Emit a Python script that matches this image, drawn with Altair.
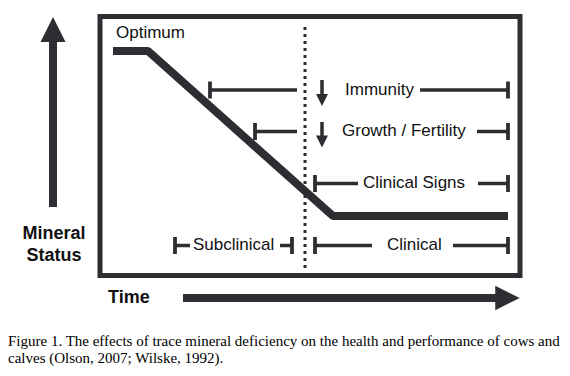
import altair as alt
import pandas as pd

W, H = 570, 376
INK = "#2c2e32"
TXT = "#111111"

# ---- diagram data (time -> x, status drawn downward from top -> y) ----
# mineral status curve
curve_time = [113, 148, 333, 508]
curve_status = [51, 51, 216, 216]

# frame of the plot
frame_x = [100]
frame_x2 = [520]
frame_y = [16.5]
frame_y2 = [275.5]

# threshold (dotted) between subclinical and clinical
threshold_x = [305]
threshold_y = [27]
threshold_y2 = [268]

# bracket rows
labels = ["Immunity", "Growth / Fertility", "Clinical Signs", "Clinical", "Subclinical"]
row_y = [90, 131.5, 183.5, 245.5, 245.5]
row_start = [210, 255, 315, 315, 175]
row_left_end = [297, 297, 358, 372, 190]
row_right_start = [420, 477, 478, 453, 280]
row_end = [508, 508, 508, 508, 292]
label_x = [345, 342, 363, 387, 193]

# small "decrease" arrows
down_x = [322, 322]
down_top = [80, 122]
down_tip = [105.5, 147]

# axis arrows
status_arrow_x = [53]
status_arrow_bottom = [207]
status_arrow_tip = [17]
time_arrow_y = [298]
time_arrow_start = [183]
time_arrow_tip = [520]

# text
optimum_label = ["Optimum"]
status_label = ["Mineral", "Status"]
time_label = ["Time"]
caption = [
    "Figure 1. The effects of trace mineral deficiency on the health and performance of cows and",
    "calves (Olson, 2007; Wilske, 1992).",
]

# ---- scales ----
xs = alt.Scale(domain=[0, W], nice=False, zero=False)
ys = alt.Scale(domain=[0, H], nice=False, zero=False, reverse=True)


def X(f):
    return alt.X(f, type="quantitative", scale=xs, axis=None)


def Y(f):
    return alt.Y(f, type="quantitative", scale=ys, axis=None)


# ---- tables ----
curve_df = pd.DataFrame({"t": curve_time, "s": curve_status, "o": list(range(len(curve_time)))})
frame_df = pd.DataFrame({"x": frame_x, "x2": frame_x2, "y": frame_y, "y2": frame_y2})
thr_df = pd.DataFrame({"x": threshold_x, "y": threshold_y, "y2": threshold_y2})

hseg = []
ticks = []
for i in range(len(labels)):
    hseg.append({"x": row_start[i], "x2": row_left_end[i], "y": row_y[i]})
    hseg.append({"x": row_right_start[i], "x2": row_end[i], "y": row_y[i]})
    ticks.append({"x": row_start[i], "y": row_y[i] - 8.5, "y2": row_y[i] + 8.5})
    ticks.append({"x": row_end[i], "y": row_y[i] - 8.5, "y2": row_y[i] + 8.5})
hseg_df = pd.DataFrame(hseg)
tick_df = pd.DataFrame(ticks)
lab_df = pd.DataFrame({"x": label_x, "y": row_y, "label": labels})

down_shaft_df = pd.DataFrame({"x": down_x, "y": down_top, "y2": [t - 9 for t in down_tip]})
down_head_df = pd.DataFrame({"x": down_x, "y": [t - 5.5 for t in down_tip]})

up_shaft_df = pd.DataFrame({"x": status_arrow_x, "y": [t + 23 for t in status_arrow_tip], "y2": status_arrow_bottom})
up_head_df = pd.DataFrame({"x": status_arrow_x, "y": [t + 12.5 for t in status_arrow_tip]})
right_shaft_df = pd.DataFrame({"x": time_arrow_start, "x2": [t - 23 for t in time_arrow_tip], "y": time_arrow_y})
right_head_df = pd.DataFrame({"x": [t - 12.5 for t in time_arrow_tip], "y": time_arrow_y})

opt_df = pd.DataFrame({"x": [116], "y": [38], "label": optimum_label})
status_df = pd.DataFrame({"x": [54, 54], "y": [239, 261], "label": status_label})
time_df = pd.DataFrame({"x": [108], "y": [303], "label": time_label})
cap_df = pd.DataFrame({"x": [8, 8], "y": [345.5, 362.5], "label": caption})

# ---- layers ----
frame = alt.Chart(frame_df).mark_rect(filled=False, stroke=INK, strokeWidth=5).encode(
    x=X("x"), x2="x2", y=Y("y"), y2="y2"
)
curve = alt.Chart(curve_df).mark_line(color=INK, strokeWidth=8, strokeJoin="bevel", strokeCap="butt").encode(
    x=X("t"), y=Y("s"), order="o:Q"
)
thr = alt.Chart(thr_df).mark_rule(color=INK, strokeWidth=3, strokeDash=[3, 4], strokeCap="butt").encode(
    x=X("x"), y=Y("y"), y2="y2"
)
hsegs = alt.Chart(hseg_df).mark_rule(color=INK, strokeWidth=3.5, strokeCap="butt").encode(
    x=X("x"), x2="x2", y=Y("y")
)
tks = alt.Chart(tick_df).mark_rule(color=INK, strokeWidth=3.8, strokeCap="butt").encode(
    x=X("x"), y=Y("y"), y2="y2"
)
labs = alt.Chart(lab_df).mark_text(
    align="left", baseline="alphabetic", dy=4.8, font="Liberation Sans", fontSize=17, color=TXT
).encode(x=X("x"), y=Y("y"), text="label:N")

dshaft = alt.Chart(down_shaft_df).mark_rule(color=INK, strokeWidth=3.5, strokeCap="butt").encode(
    x=X("x"), y=Y("y"), y2="y2"
)
dhead = alt.Chart(down_head_df).mark_point(
    shape="M-1,-1L1,-1L0,1Z", size=144, filled=True, opacity=1, color=INK, strokeWidth=0
).encode(x=X("x"), y=Y("y"))

ushaft = alt.Chart(up_shaft_df).mark_rule(color=INK, strokeWidth=8, strokeCap="butt").encode(
    x=X("x"), y=Y("y"), y2="y2"
)
uhead = alt.Chart(up_head_df).mark_point(
    shape="M-1,1L1,1L0,-1Z", size=625, filled=True, opacity=1, color=INK, strokeWidth=0
).encode(x=X("x"), y=Y("y"))
rshaft = alt.Chart(right_shaft_df).mark_rule(color=INK, strokeWidth=8, strokeCap="butt").encode(
    x=X("x"), x2="x2", y=Y("y")
)
rhead = alt.Chart(right_head_df).mark_point(
    shape="M-1,-1L1,0L-1,1Z", size=600, filled=True, opacity=1, color=INK, strokeWidth=0
).encode(x=X("x"), y=Y("y"))

opt = alt.Chart(opt_df).mark_text(
    align="left", baseline="alphabetic", font="Liberation Sans", fontSize=17, color=TXT
).encode(x=X("x"), y=Y("y"), text="label:N")
stat = alt.Chart(status_df).mark_text(
    align="center", baseline="alphabetic", font="Liberation Sans", fontSize=18, fontWeight="bold", color=TXT
).encode(x=X("x"), y=Y("y"), text="label:N")
tm = alt.Chart(time_df).mark_text(
    align="left", baseline="alphabetic", font="Liberation Sans", fontSize=18, fontWeight="bold", color=TXT
).encode(x=X("x"), y=Y("y"), text="label:N")
cap = alt.Chart(cap_df).mark_text(
    align="left", baseline="alphabetic", font="Liberation Serif", fontSize=15, color="#000000"
).encode(x=X("x"), y=Y("y"), text="label:N")

chart = alt.layer(
    frame, thr, curve, hsegs, tks, dshaft, dhead, ushaft, uhead, rshaft, rhead,
    labs, opt, stat, tm, cap
).properties(
    width=W, height=H, padding=0, autosize=alt.AutoSizeParams(type="none"), background="white"
).configure_view(stroke=None)

chart.save("out.html", embed_options={"renderer": "svg", "actions": False})
